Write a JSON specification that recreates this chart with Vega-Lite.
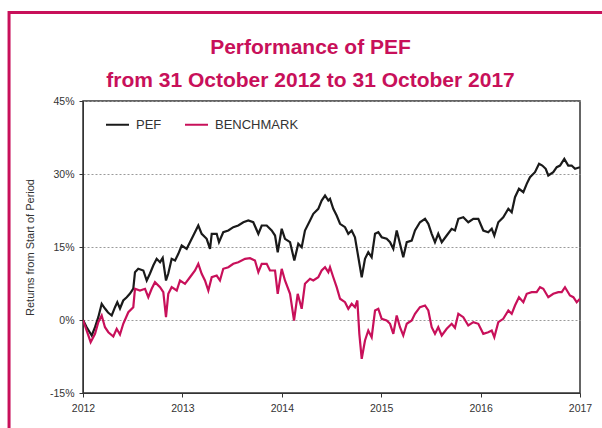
{
  "$schema": "https://vega.github.io/schema/vega-lite/v6.json",
  "width": 497,
  "height": 292,
  "autosize": {"type": "none"},
  "padding": {"left": 83, "top": 101, "right": 22, "bottom": 35},
  "background": "white",
  "config": {
    "font": "Liberation Sans",
    "view": {"stroke": "#333333", "strokeWidth": 1.5}
  },
  "title": {
    "text": ["Performance of PEF", "from 31 October 2012 to 31 October 2017"],
    "font": "Liberation Sans",
    "fontSize": 21,
    "fontWeight": "bold",
    "color": "#c8105a",
    "anchor": "middle",
    "frame": "group",
    "dx": -21,
    "offset": -80,
    "lineHeight": 33
  },
  "datasets": {
    "perf": [
      {"s":"PEF","t":2012.000,"v":0},
      {"s":"PEF","t":2012.037,"v":-1.48},
      {"s":"PEF","t":2012.088,"v":-3.18},
      {"s":"PEF","t":2012.121,"v":-1.48},
      {"s":"PEF","t":2012.154,"v":0.58},
      {"s":"PEF","t":2012.188,"v":3.33},
      {"s":"PEF","t":2012.221,"v":2.36},
      {"s":"PEF","t":2012.252,"v":1.54},
      {"s":"PEF","t":2012.289,"v":0.92},
      {"s":"PEF","t":2012.322,"v":2.63},
      {"s":"PEF","t":2012.345,"v":3.66},
      {"s":"PEF","t":2012.372,"v":2.36},
      {"s":"PEF","t":2012.405,"v":4.01},
      {"s":"PEF","t":2012.440,"v":4.68},
      {"s":"PEF","t":2012.473,"v":5.44},
      {"s":"PEF","t":2012.506,"v":6.47},
      {"s":"PEF","t":2012.523,"v":9.82},
      {"s":"PEF","t":2012.556,"v":10.52},
      {"s":"PEF","t":2012.607,"v":10.17},
      {"s":"PEF","t":2012.641,"v":8.12},
      {"s":"PEF","t":2012.674,"v":9.55},
      {"s":"PEF","t":2012.707,"v":11.20},
      {"s":"PEF","t":2012.741,"v":12.57},
      {"s":"PEF","t":2012.775,"v":11.88},
      {"s":"PEF","t":2012.802,"v":12.78},
      {"s":"PEF","t":2012.835,"v":8.12},
      {"s":"PEF","t":2012.858,"v":9.55},
      {"s":"PEF","t":2012.892,"v":12.57},
      {"s":"PEF","t":2012.926,"v":12.23},
      {"s":"PEF","t":2012.959,"v":13.60},
      {"s":"PEF","t":2012.993,"v":15.31},
      {"s":"PEF","t":2013.043,"v":14.63},
      {"s":"PEF","t":2013.076,"v":15.99},
      {"s":"PEF","t":2013.110,"v":17.36},
      {"s":"PEF","t":2013.160,"v":19.42},
      {"s":"PEF","t":2013.194,"v":17.71},
      {"s":"PEF","t":2013.244,"v":16.68},
      {"s":"PEF","t":2013.278,"v":14.63},
      {"s":"PEF","t":2013.295,"v":17.71},
      {"s":"PEF","t":2013.345,"v":17.71},
      {"s":"PEF","t":2013.368,"v":15.99},
      {"s":"PEF","t":2013.411,"v":18.04},
      {"s":"PEF","t":2013.462,"v":18.39},
      {"s":"PEF","t":2013.512,"v":19.07},
      {"s":"PEF","t":2013.562,"v":19.42},
      {"s":"PEF","t":2013.613,"v":20.09},
      {"s":"PEF","t":2013.663,"v":20.44},
      {"s":"PEF","t":2013.713,"v":20.09},
      {"s":"PEF","t":2013.764,"v":17.71},
      {"s":"PEF","t":2013.798,"v":19.42},
      {"s":"PEF","t":2013.848,"v":19.42},
      {"s":"PEF","t":2013.898,"v":18.39},
      {"s":"PEF","t":2013.932,"v":17.36},
      {"s":"PEF","t":2013.959,"v":13.93},
      {"s":"PEF","t":2013.999,"v":18.74},
      {"s":"PEF","t":2014.032,"v":16.68},
      {"s":"PEF","t":2014.083,"v":15.99},
      {"s":"PEF","t":2014.126,"v":12.23},
      {"s":"PEF","t":2014.166,"v":15.66},
      {"s":"PEF","t":2014.200,"v":14.96},
      {"s":"PEF","t":2014.233,"v":18.39},
      {"s":"PEF","t":2014.284,"v":20.44},
      {"s":"PEF","t":2014.317,"v":21.82},
      {"s":"PEF","t":2014.367,"v":22.85},
      {"s":"PEF","t":2014.401,"v":24.55},
      {"s":"PEF","t":2014.435,"v":25.58},
      {"s":"PEF","t":2014.468,"v":24.55},
      {"s":"PEF","t":2014.485,"v":24.90},
      {"s":"PEF","t":2014.518,"v":22.85},
      {"s":"PEF","t":2014.552,"v":21.47},
      {"s":"PEF","t":2014.586,"v":19.77},
      {"s":"PEF","t":2014.636,"v":19.07},
      {"s":"PEF","t":2014.669,"v":17.71},
      {"s":"PEF","t":2014.703,"v":18.39},
      {"s":"PEF","t":2014.736,"v":17.01},
      {"s":"PEF","t":2014.770,"v":12.90},
      {"s":"PEF","t":2014.804,"v":8.79},
      {"s":"PEF","t":2014.837,"v":12.57},
      {"s":"PEF","t":2014.870,"v":13.93},
      {"s":"PEF","t":2014.904,"v":12.90},
      {"s":"PEF","t":2014.938,"v":17.71},
      {"s":"PEF","t":2014.971,"v":18.04},
      {"s":"PEF","t":2015.005,"v":17.01},
      {"s":"PEF","t":2015.055,"v":16.68},
      {"s":"PEF","t":2015.089,"v":15.99},
      {"s":"PEF","t":2015.122,"v":14.63},
      {"s":"PEF","t":2015.156,"v":18.39},
      {"s":"PEF","t":2015.189,"v":15.66},
      {"s":"PEF","t":2015.222,"v":12.90},
      {"s":"PEF","t":2015.257,"v":15.99},
      {"s":"PEF","t":2015.307,"v":16.33},
      {"s":"PEF","t":2015.340,"v":18.39},
      {"s":"PEF","t":2015.390,"v":20.09},
      {"s":"PEF","t":2015.441,"v":20.79},
      {"s":"PEF","t":2015.474,"v":19.77},
      {"s":"PEF","t":2015.508,"v":17.71},
      {"s":"PEF","t":2015.541,"v":15.99},
      {"s":"PEF","t":2015.574,"v":17.71},
      {"s":"PEF","t":2015.609,"v":15.99},
      {"s":"PEF","t":2015.659,"v":17.36},
      {"s":"PEF","t":2015.709,"v":18.74},
      {"s":"PEF","t":2015.742,"v":18.39},
      {"s":"PEF","t":2015.776,"v":20.79},
      {"s":"PEF","t":2015.826,"v":21.12},
      {"s":"PEF","t":2015.876,"v":20.09},
      {"s":"PEF","t":2015.927,"v":20.79},
      {"s":"PEF","t":2015.977,"v":20.79},
      {"s":"PEF","t":2016.027,"v":18.39},
      {"s":"PEF","t":2016.077,"v":18.04},
      {"s":"PEF","t":2016.112,"v":18.74},
      {"s":"PEF","t":2016.138,"v":17.36},
      {"s":"PEF","t":2016.178,"v":20.09},
      {"s":"PEF","t":2016.228,"v":21.12},
      {"s":"PEF","t":2016.279,"v":22.85},
      {"s":"PEF","t":2016.313,"v":22.15},
      {"s":"PEF","t":2016.346,"v":25.23},
      {"s":"PEF","t":2016.386,"v":26.96},
      {"s":"PEF","t":2016.430,"v":26.26},
      {"s":"PEF","t":2016.464,"v":27.98},
      {"s":"PEF","t":2016.497,"v":29.34},
      {"s":"PEF","t":2016.547,"v":30.37},
      {"s":"PEF","t":2016.588,"v":32.09},
      {"s":"PEF","t":2016.621,"v":31.74},
      {"s":"PEF","t":2016.655,"v":31.07},
      {"s":"PEF","t":2016.681,"v":29.69},
      {"s":"PEF","t":2016.731,"v":30.37},
      {"s":"PEF","t":2016.766,"v":31.40},
      {"s":"PEF","t":2016.799,"v":31.74},
      {"s":"PEF","t":2016.842,"v":33.12},
      {"s":"PEF","t":2016.882,"v":31.74},
      {"s":"PEF","t":2016.916,"v":31.74},
      {"s":"PEF","t":2016.950,"v":31.07},
      {"s":"PEF","t":2017.000,"v":31.40},
      {"s":"BENCHMARK","t":2012.000,"v":0},
      {"s":"BENCHMARK","t":2012.037,"v":-2.16},
      {"s":"BENCHMARK","t":2012.077,"v":-4.56},
      {"s":"BENCHMARK","t":2012.121,"v":-2.84},
      {"s":"BENCHMARK","t":2012.154,"v":-0.45},
      {"s":"BENCHMARK","t":2012.188,"v":0.92},
      {"s":"BENCHMARK","t":2012.221,"v":-1.48},
      {"s":"BENCHMARK","t":2012.255,"v":-2.51},
      {"s":"BENCHMARK","t":2012.305,"v":-3.39},
      {"s":"BENCHMARK","t":2012.339,"v":-1.81},
      {"s":"BENCHMARK","t":2012.372,"v":-2.98},
      {"s":"BENCHMARK","t":2012.405,"v":-0.78},
      {"s":"BENCHMARK","t":2012.456,"v":1.60},
      {"s":"BENCHMARK","t":2012.506,"v":2.63},
      {"s":"BENCHMARK","t":2012.523,"v":6.41},
      {"s":"BENCHMARK","t":2012.573,"v":6.06},
      {"s":"BENCHMARK","t":2012.624,"v":6.41},
      {"s":"BENCHMARK","t":2012.657,"v":4.68},
      {"s":"BENCHMARK","t":2012.691,"v":6.41},
      {"s":"BENCHMARK","t":2012.724,"v":7.77},
      {"s":"BENCHMARK","t":2012.775,"v":6.74},
      {"s":"BENCHMARK","t":2012.808,"v":5.71},
      {"s":"BENCHMARK","t":2012.835,"v":0.58},
      {"s":"BENCHMARK","t":2012.858,"v":5.38},
      {"s":"BENCHMARK","t":2012.892,"v":6.74},
      {"s":"BENCHMARK","t":2012.943,"v":6.06},
      {"s":"BENCHMARK","t":2012.976,"v":8.12},
      {"s":"BENCHMARK","t":2013.026,"v":7.44},
      {"s":"BENCHMARK","t":2013.076,"v":8.79},
      {"s":"BENCHMARK","t":2013.127,"v":10.17},
      {"s":"BENCHMARK","t":2013.160,"v":11.55},
      {"s":"BENCHMARK","t":2013.194,"v":9.49},
      {"s":"BENCHMARK","t":2013.227,"v":8.12},
      {"s":"BENCHMARK","t":2013.261,"v":6.06},
      {"s":"BENCHMARK","t":2013.295,"v":8.79},
      {"s":"BENCHMARK","t":2013.345,"v":9.14},
      {"s":"BENCHMARK","t":2013.378,"v":8.12},
      {"s":"BENCHMARK","t":2013.411,"v":10.52},
      {"s":"BENCHMARK","t":2013.462,"v":10.85},
      {"s":"BENCHMARK","t":2013.512,"v":11.55},
      {"s":"BENCHMARK","t":2013.562,"v":11.88},
      {"s":"BENCHMARK","t":2013.630,"v":12.57},
      {"s":"BENCHMARK","t":2013.680,"v":12.70},
      {"s":"BENCHMARK","t":2013.730,"v":12.23},
      {"s":"BENCHMARK","t":2013.764,"v":9.82},
      {"s":"BENCHMARK","t":2013.798,"v":11.55},
      {"s":"BENCHMARK","t":2013.848,"v":11.55},
      {"s":"BENCHMARK","t":2013.881,"v":10.17},
      {"s":"BENCHMARK","t":2013.932,"v":10.17},
      {"s":"BENCHMARK","t":2013.959,"v":5.38},
      {"s":"BENCHMARK","t":2013.999,"v":10.52},
      {"s":"BENCHMARK","t":2014.032,"v":8.12},
      {"s":"BENCHMARK","t":2014.083,"v":5.38},
      {"s":"BENCHMARK","t":2014.123,"v":-0.10},
      {"s":"BENCHMARK","t":2014.160,"v":5.38},
      {"s":"BENCHMARK","t":2014.200,"v":2.30},
      {"s":"BENCHMARK","t":2014.233,"v":7.44},
      {"s":"BENCHMARK","t":2014.284,"v":8.47},
      {"s":"BENCHMARK","t":2014.317,"v":8.12},
      {"s":"BENCHMARK","t":2014.367,"v":8.79},
      {"s":"BENCHMARK","t":2014.401,"v":10.17},
      {"s":"BENCHMARK","t":2014.435,"v":10.85},
      {"s":"BENCHMARK","t":2014.468,"v":9.82},
      {"s":"BENCHMARK","t":2014.485,"v":10.85},
      {"s":"BENCHMARK","t":2014.518,"v":8.79},
      {"s":"BENCHMARK","t":2014.552,"v":6.74},
      {"s":"BENCHMARK","t":2014.586,"v":4.36},
      {"s":"BENCHMARK","t":2014.636,"v":3.66},
      {"s":"BENCHMARK","t":2014.669,"v":2.30},
      {"s":"BENCHMARK","t":2014.703,"v":3.33},
      {"s":"BENCHMARK","t":2014.736,"v":2.63},
      {"s":"BENCHMARK","t":2014.760,"v":4.01},
      {"s":"BENCHMARK","t":2014.780,"v":-2.84},
      {"s":"BENCHMARK","t":2014.804,"v":-7.97},
      {"s":"BENCHMARK","t":2014.837,"v":-4.21},
      {"s":"BENCHMARK","t":2014.870,"v":-2.16},
      {"s":"BENCHMARK","t":2014.904,"v":-3.53},
      {"s":"BENCHMARK","t":2014.938,"v":1.95},
      {"s":"BENCHMARK","t":2014.971,"v":2.30},
      {"s":"BENCHMARK","t":2015.005,"v":0.25},
      {"s":"BENCHMARK","t":2015.055,"v":-0.10},
      {"s":"BENCHMARK","t":2015.089,"v":-0.78},
      {"s":"BENCHMARK","t":2015.122,"v":-2.84},
      {"s":"BENCHMARK","t":2015.156,"v":0.92},
      {"s":"BENCHMARK","t":2015.189,"v":-1.48},
      {"s":"BENCHMARK","t":2015.222,"v":-3.18},
      {"s":"BENCHMARK","t":2015.257,"v":-0.78},
      {"s":"BENCHMARK","t":2015.307,"v":-0.10},
      {"s":"BENCHMARK","t":2015.340,"v":1.27},
      {"s":"BENCHMARK","t":2015.390,"v":2.63},
      {"s":"BENCHMARK","t":2015.441,"v":2.98},
      {"s":"BENCHMARK","t":2015.474,"v":1.95},
      {"s":"BENCHMARK","t":2015.508,"v":-1.48},
      {"s":"BENCHMARK","t":2015.541,"v":-2.84},
      {"s":"BENCHMARK","t":2015.574,"v":-1.48},
      {"s":"BENCHMARK","t":2015.609,"v":-3.18},
      {"s":"BENCHMARK","t":2015.659,"v":-1.81},
      {"s":"BENCHMARK","t":2015.709,"v":-0.78},
      {"s":"BENCHMARK","t":2015.742,"v":-1.60},
      {"s":"BENCHMARK","t":2015.776,"v":1.27},
      {"s":"BENCHMARK","t":2015.826,"v":0.58},
      {"s":"BENCHMARK","t":2015.876,"v":-1.13},
      {"s":"BENCHMARK","t":2015.927,"v":-0.45},
      {"s":"BENCHMARK","t":2015.977,"v":-0.78},
      {"s":"BENCHMARK","t":2016.027,"v":-2.84},
      {"s":"BENCHMARK","t":2016.077,"v":-2.51},
      {"s":"BENCHMARK","t":2016.112,"v":-2.16},
      {"s":"BENCHMARK","t":2016.138,"v":-3.53},
      {"s":"BENCHMARK","t":2016.178,"v":-0.45},
      {"s":"BENCHMARK","t":2016.228,"v":0.25},
      {"s":"BENCHMARK","t":2016.279,"v":1.95},
      {"s":"BENCHMARK","t":2016.313,"v":1.27},
      {"s":"BENCHMARK","t":2016.346,"v":2.98},
      {"s":"BENCHMARK","t":2016.386,"v":4.68},
      {"s":"BENCHMARK","t":2016.430,"v":3.66},
      {"s":"BENCHMARK","t":2016.464,"v":5.38},
      {"s":"BENCHMARK","t":2016.514,"v":5.71},
      {"s":"BENCHMARK","t":2016.564,"v":5.71},
      {"s":"BENCHMARK","t":2016.598,"v":6.74},
      {"s":"BENCHMARK","t":2016.631,"v":6.41},
      {"s":"BENCHMARK","t":2016.681,"v":4.68},
      {"s":"BENCHMARK","t":2016.731,"v":5.38},
      {"s":"BENCHMARK","t":2016.782,"v":5.71},
      {"s":"BENCHMARK","t":2016.816,"v":5.71},
      {"s":"BENCHMARK","t":2016.849,"v":6.74},
      {"s":"BENCHMARK","t":2016.899,"v":5.03},
      {"s":"BENCHMARK","t":2016.933,"v":4.68},
      {"s":"BENCHMARK","t":2016.967,"v":3.66},
      {"s":"BENCHMARK","t":2017.000,"v":4.36}
    ]
  },
  "layer": [
    {
      "data": {"values": [{"frame": "outer"}]},
      "mark": {"type": "rect", "fill": null, "stroke": "#c8105a", "strokeWidth": 3, "clip": false},
      "encoding": {
        "x": {"datum": 2011.256, "type": "quantitative"},
        "x2": {"datum": 2017.6},
        "y": {"datum": 63.2, "type": "quantitative"},
        "y2": {"datum": -26}
      }
    },
    {
      "data": {"name": "perf"},
      "mark": {"type": "line", "strokeWidth": 2.2, "clip": true},
      "encoding": {
        "x": {
          "field": "t",
          "type": "quantitative",
          "scale": {"domain": [2012, 2017], "nice": false, "zero": false},
          "axis": {
            "values": [2012, 2013, 2014, 2015, 2016, 2017],
            "format": "d",
            "grid": false,
            "title": null,
            "tickSize": 4,
            "labelPadding": 6,
            "labelFontSize": 10.5,
            "labelColor": "#333333",
            "domainColor": "#333333",
            "tickColor": "#333333",
            "labelFlush": false
          }
        },
        "y": {
          "field": "v",
          "type": "quantitative",
          "scale": {"domain": [-15, 45], "nice": false},
          "axis": {
            "values": [-15, 0, 15, 30, 45],
            "labelExpr": "datum.value + '%'",
            "grid": true,
            "gridDash": [2, 2],
            "gridColor": "#9a9a9a",
            "gridWidth": 1,
            "tickSize": 4,
            "labelPadding": 5,
            "labelFontSize": 10.5,
            "labelColor": "#333333",
            "domainColor": "#333333",
            "tickColor": "#333333",
            "title": "Returns from Start of Period",
            "titleFontSize": 11,
            "titleFontWeight": "normal",
            "titleColor": "#333333",
            "titlePadding": 14
          }
        },
        "color": {
          "field": "s",
          "type": "nominal",
          "scale": {"domain": ["PEF", "BENCHMARK"], "range": ["#1a1a1a", "#c8105a"]},
          "legend": {
            "orient": "none",
            "legendX": 22,
            "legendY": 11,
            "direction": "horizontal",
            "title": null,
            "symbolType": "stroke",
            "symbolSize": 529,
            "symbolStrokeWidth": 2,
            "labelFontSize": 13,
            "labelColor": "#333333",
            "labelOffset": 6,
            "columnPadding": 19,
            "padding": 0
          }
        }
      }
    }
  ]
}
